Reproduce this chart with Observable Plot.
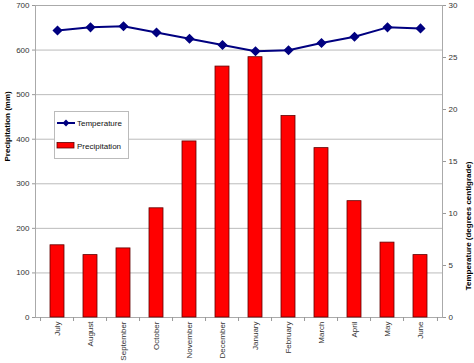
<!DOCTYPE html>
<html><head><meta charset="utf-8">
<script src="https://cdn.jsdelivr.net/npm/d3@7"></script>
<script src="https://cdn.jsdelivr.net/npm/@observablehq/plot@0.6"></script>
<style>body{margin:0;background:#fff}</style>
</head><body><div id="chart"></div>
<script>
const months = ["July","August","September","October","November","December","January","February","March","April","May","June"];
const precipitation = [162,140,155,245,395,563,584,452,380,261,168,140];
const temperature = [27.6,27.9,28.0,27.4,26.8,26.2,25.6,25.7,26.4,27.0,27.9,27.8];
const precipTicks = [0,100,200,300,400,500,600,700];
const tempTicks = [0,5,10,15,20,25,30];
const PMAX = 700, TMAX = 30;
const precipLabel = "Precipitation (mm)";
const tempLabel = "Temperature (degrees centigrade)";
const legendItems = ["Temperature","Precipitation"];

const rows = months.map((m,i)=>({month:m, precip:precipitation[i], temp:temperature[i], tScaled:temperature[i]*PMAX/TMAX}));

const W = 474, H = 363, ML = 35, MR = 32, MT = 5, MB = 46;
const step = (W-ML-MR)/months.length;

const chart = Plot.plot({
  width:W, height:H, marginLeft:ML, marginRight:MR, marginTop:MT, marginBottom:MB,
  style:{fontFamily:"'Liberation Sans', Arial, sans-serif", fontSize:"8px", color:"#333", background:"#fff"},
  x:{type:"band", domain:months, paddingInner:0.58, paddingOuter:0.29},
  y:{domain:[0,PMAX]},
  marks:[
    Plot.gridY(precipTicks, {stroke:"#bbb", strokeOpacity:1}),
    Plot.frame({stroke:"#aaa"}),
    Plot.barY(rows, {x:"month", y:"precip", fill:"#ff0000", stroke:"#600000", strokeWidth:0.8}),
    Plot.ruleX(months, {x:d=>d, dx:-step/2, y1:0, y2:-9, stroke:"#999"}),
    Plot.ruleX([months[months.length-1]], {x:d=>d, dx:step/2, y1:0, y2:-9, stroke:"#999"}),
    Plot.axisY(precipTicks, {anchor:"left", tickSize:3, tickPadding:3, label:null, stroke:"#999"}),
    Plot.axisY(tempTicks.map(t=>t*PMAX/TMAX), {anchor:"right", tickFormat:d=>String(Math.round(d*TMAX/PMAX)), tickSize:3, tickPadding:3, label:null, stroke:"#999"}),
    Plot.axisX({tickRotate:-90, tickSize:0, tickPadding:4, label:null}),
    Plot.line(rows, {x:"month", y:"tScaled", stroke:"#000080", strokeWidth:2}),
    Plot.dot(rows, {x:"month", y:"tScaled", symbol:"diamond2", r:3.6, fill:"#000080", stroke:"#000080"}),
    Plot.text([precipLabel], {text:d=>d, frameAnchor:"left", rotate:-90, dx:-28, fontWeight:"bold", fontSize:8, fill:"#000"}),
    Plot.text([tempLabel], {text:d=>d, frameAnchor:"right", rotate:-90, dx:26, fontWeight:"bold", fontSize:8, fill:"#000"})
  ]
});
document.getElementById("chart").appendChild(chart);

// legend
const svg = d3.select(chart);
const g = svg.append("g").attr("font-family","'Liberation Sans', Arial, sans-serif").attr("font-size",8).attr("fill","#111").attr("text-anchor","start");
g.append("rect").attr("x",54.5).attr("y",111.5).attr("width",74).attr("height",47).attr("fill","#fff").attr("stroke","#bbb");
g.append("line").attr("x1",57).attr("x2",75).attr("y1",123).attr("y2",123).attr("stroke","#000080").attr("stroke-width",2);
g.append("path").attr("d",d3.symbol(d3.symbolDiamond2, 30)()).attr("transform","translate(66,123)").attr("fill","#000080");
g.append("text").attr("x",77).attr("y",126).attr("text-anchor","start").text(legendItems[0]);
g.append("rect").attr("x",57).attr("y",142.5).attr("width",17).attr("height",5.5).attr("fill","#ff0000").attr("stroke","#600000").attr("stroke-width",0.8);
g.append("text").attr("x",77).attr("y",149).attr("text-anchor","start").text(legendItems[1]);
</script>
</body></html>
